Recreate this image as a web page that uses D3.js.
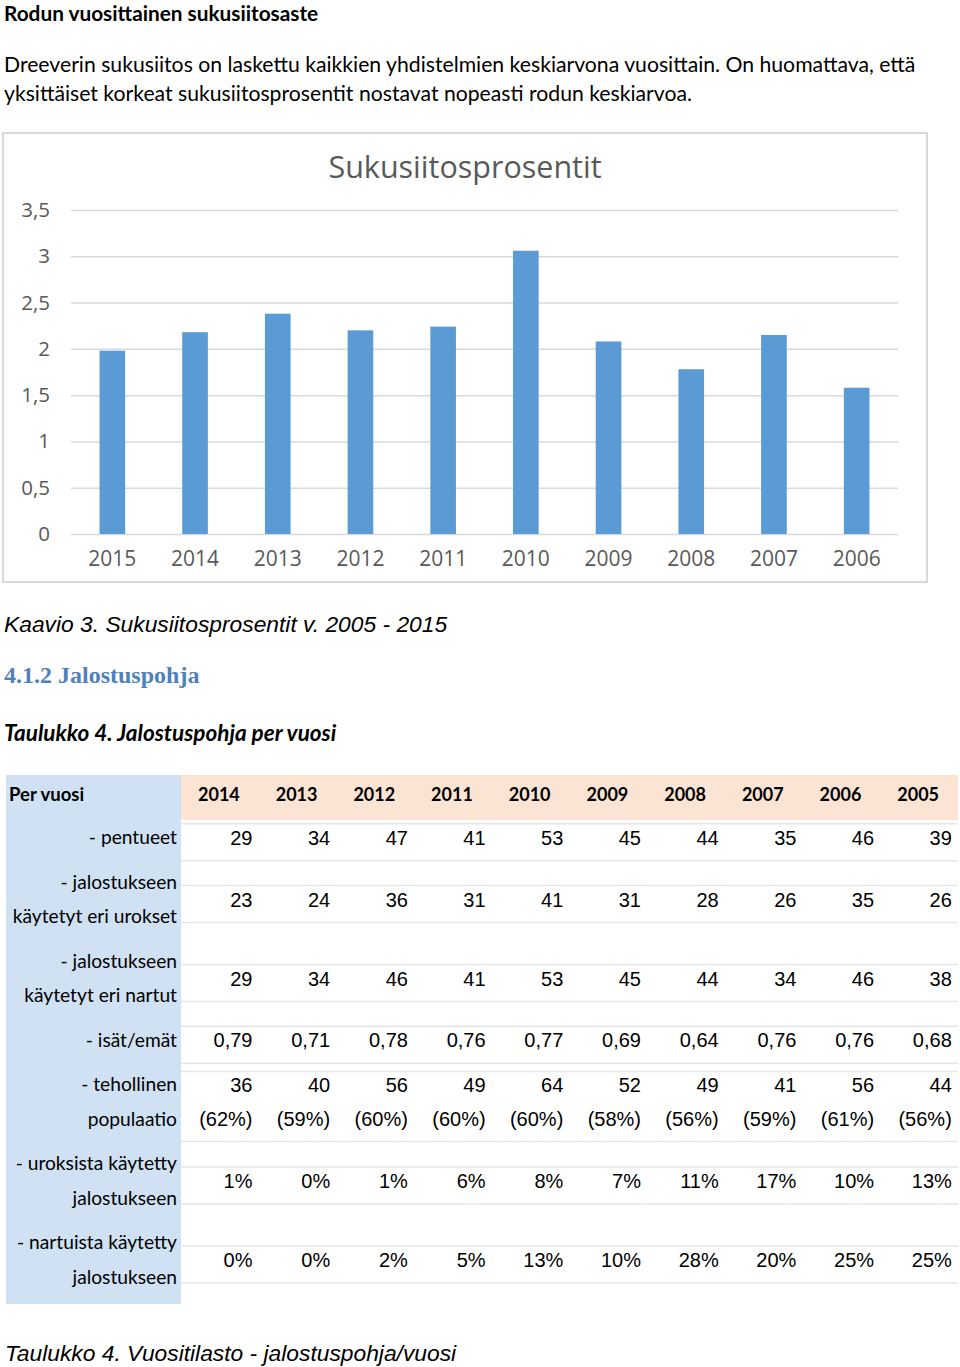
<!DOCTYPE html>
<html>
<head>
<meta charset="utf-8">
<script src="https://cdn.jsdelivr.net/npm/d3@7"></script>
<style>
  html, body { margin: 0; padding: 0; background: #fff; }
  svg { display: block; }
</style>
</head>
<body>
<svg id="page" width="960" height="1367"></svg>
<script>
// ---------------- DATA ----------------
const chartYears = ["2015","2014","2013","2012","2011","2010","2009","2008","2007","2006"];
const inbreeding = [1.98, 2.18, 2.38, 2.20, 2.24, 3.06, 2.08, 1.78, 2.15, 1.58];
const yTicks = [0, 0.5, 1, 1.5, 2, 2.5, 3, 3.5];

const tableYears = ["2014","2013","2012","2011","2010","2009","2008","2007","2006","2005"];
const pentueet = [29, 34, 47, 41, 53, 45, 44, 35, 46, 39];
const urokset = [23, 24, 36, 31, 41, 31, 28, 26, 35, 26];
const nartut = [29, 34, 46, 41, 53, 45, 44, 34, 46, 38];
const isatEmat = [0.79, 0.71, 0.78, 0.76, 0.77, 0.69, 0.64, 0.76, 0.76, 0.68];
const tehollinen = [36, 40, 56, 49, 64, 52, 49, 41, 56, 44];
const tehollinenPct = [62, 59, 60, 60, 60, 58, 56, 59, 61, 56];
const uroksistaPct = [1, 0, 1, 6, 8, 7, 11, 17, 10, 13];
const nartuistaPct = [0, 0, 2, 5, 13, 10, 28, 20, 25, 25];

const rowLabels = [
  ["- pentueet"],
  ["- jalostukseen", "käytetyt eri urokset"],
  ["- jalostukseen", "käytetyt eri nartut"],
  ["- isät/emät"],
  ["- tehollinen", "populaatio"],
  ["- uroksista käytetty", "jalostukseen"],
  ["- nartuista käytetty", "jalostukseen"]
];

// ---------------- RENDER ----------------
const fi = d3.formatLocale({decimal: ",", thousands: "\u00a0", grouping: [3], currency: ["", "\u00a0€"]});
const fmtTick = v => fi.format(",")(v);
const fmt2 = fi.format(".2f");

const svg = d3.select("#page");
const CAL = "Lato, 'Open Sans', sans-serif";
const ARIAL = "'Liberation Sans', Arial, sans-serif";
const OPEN = "'Open Sans', sans-serif";

// Page texts
svg.append("text").attr("x", 4).attr("y", 20.5)
  .attr("font-family", CAL).attr("font-weight", 700).attr("font-size", 20.8)
  .text("Rodun vuosittainen sukusiitosaste");
svg.append("text").attr("x", 4).attr("y", 72)
  .attr("font-family", CAL).attr("font-size", 21.2)
  .text("Dreeverin sukusiitos on laskettu kaikkien yhdistelmien keskiarvona vuosittain. On huomattava, että");
svg.append("text").attr("x", 4).attr("y", 101)
  .attr("font-family", CAL).attr("font-size", 21.2)
  .text("yksittäiset korkeat sukusiitosprosentit nostavat nopeasti rodun keskiarvoa.");

// ---------- Chart ----------
const chartBox = {x: 3, y: 133, w: 924, h: 449};
svg.append("rect").attr("x", chartBox.x).attr("y", chartBox.y)
  .attr("width", chartBox.w).attr("height", chartBox.h)
  .attr("fill", "#fff").attr("stroke", "#d9d9d9").attr("stroke-width", 2);

const plot = {left: 71, right: 898, top: 210, bottom: 534};
const x = d3.scaleBand().domain(chartYears).range([plot.left, plot.right]).paddingInner(0.69).paddingOuter(0.345);
const y = d3.scaleLinear().domain([0, 3.5]).range([plot.bottom, plot.top]);

svg.append("text").attr("x", 465).attr("y", 178).attr("text-anchor", "middle")
  .attr("font-family", OPEN).attr("font-size", 30.5).attr("fill", "#595959")
  .text("Sukusiitosprosentit");

const gy = svg.append("g").attr("transform", `translate(${plot.left},0)`)
  .call(d3.axisLeft(y).tickValues(yTicks).tickFormat(fmtTick).tickSize(-(plot.right - plot.left)).tickPadding(21));
gy.select(".domain").remove();
gy.selectAll(".tick line").attr("stroke", "#d9d9d9").attr("stroke-width", 1.5);
gy.selectAll(".tick text").attr("font-family", OPEN).attr("font-size", 20.5).attr("fill", "#595959");

svg.append("g").selectAll("rect").data(chartYears).join("rect")
  .attr("x", d => x(d)).attr("width", x.bandwidth())
  .attr("y", (d, i) => y(inbreeding[i]))
  .attr("height", (d, i) => y(0) - y(inbreeding[i]))
  .attr("fill", "#5b9bd5");

const gx = svg.append("g").attr("transform", `translate(0,${plot.bottom})`)
  .call(d3.axisBottom(x).tickSize(0).tickPadding(17));
gx.select(".domain").remove();
gx.selectAll(".tick text").attr("font-family", OPEN).attr("font-size", 21).attr("fill", "#595959");

// Captions
svg.append("text").attr("x", 4).attr("y", 632)
  .attr("font-family", ARIAL).attr("font-style", "italic").attr("font-size", 22.8)
  .text("Kaavio 3. Sukusiitosprosentit v. 2005 - 2015");
svg.append("text").attr("x", 4).attr("y", 683)
  .attr("font-family", "'Liberation Serif', serif").attr("font-weight", 700).attr("font-size", 24)
  .attr("fill", "#4f81bd")
  .text("4.1.2 Jalostuspohja");
svg.append("text").attr("x", 4).attr("y", 741)
  .attr("font-family", CAL).attr("font-weight", 700).attr("font-style", "italic").attr("font-size", 22.5)
  .text("Taulukko 4. Jalostuspohja per vuosi");

// ---------- Table ----------
const T = {left: 6, labelRight: 181, right: 958, top: 775, headBottom: 820, lineH: 34.5, pad: 10};
const col = d3.scaleBand().domain(tableYears).range([T.labelRight, T.right]);

const rows = [
  {label: rowLabels[0], vals: [pentueet.map(String)]},
  {label: rowLabels[1], vals: [urokset.map(String)]},
  {label: rowLabels[2], vals: [nartut.map(String)]},
  {label: rowLabels[3], vals: [isatEmat.map(fmt2)]},
  {label: rowLabels[4], vals: [tehollinen.map(String), tehollinenPct.map(v => `(${v}%)`)]},
  {label: rowLabels[5], vals: [uroksistaPct.map(v => `${v}%`)]},
  {label: rowLabels[6], vals: [nartuistaPct.map(v => `${v}%`)]}
];
let yy = T.headBottom;
rows.forEach(r => {
  r.h = r.label.length * T.lineH + T.pad;
  r.top = yy; r.c = yy + r.h / 2; yy += r.h;
});
const tableBottom = yy;

// backgrounds
svg.append("rect").attr("x", T.left).attr("y", T.top).attr("width", T.labelRight - T.left)
  .attr("height", tableBottom - T.top).attr("fill", "#cfe1f2");
svg.append("rect").attr("x", T.labelRight).attr("y", T.top).attr("width", T.right - T.labelRight)
  .attr("height", T.headBottom - T.top).attr("fill", "#fbe4d3");

// row lines
const lineG = svg.append("g");
rows.forEach(r => {
  const half = r.vals.length === 1 ? 18.5 : 35;
  [r.c - half, r.c + half].forEach(ly => {
    lineG.append("line").attr("x1", T.labelRight).attr("x2", T.right)
      .attr("y1", ly).attr("y2", ly).attr("stroke", "#e6e6e6").attr("stroke-width", 1.5);
  });
});

// header
const headC = (T.top + T.headBottom) / 2;
svg.append("text").attr("x", 9).attr("y", headC + 3)
  .attr("font-family", CAL).attr("font-weight", 700).attr("font-size", 18.5)
  .text("Per vuosi");
svg.append("g").selectAll("text").data(tableYears).join("text")
  .attr("x", d => col(d) + 17).attr("y", headC + 3)
  .attr("font-family", CAL).attr("font-weight", 700).attr("font-size", 18)
  .text(d => d);

// label + values
rows.forEach(r => {
  const tc = r.c - 4.5;
  const n = r.label.length;
  r.label.forEach((t, k) => {
    svg.append("text").attr("x", 177).attr("y", tc + (k - (n - 1) / 2) * T.lineH + 6.5)
      .attr("text-anchor", "end").attr("font-family", CAL).attr("font-size", 19.2)
      .text(t);
  });
  const m = r.vals.length;
  r.vals.forEach((arr, k) => {
    svg.append("g").selectAll("text").data(tableYears).join("text")
      .attr("x", d => col(d) + 71.5)
      .attr("y", tc + (k - (m - 1) / 2) * 33.5 + 7)
      .attr("text-anchor", "end").attr("font-family", ARIAL).attr("font-size", 20)
      .text((d, i) => arr[i]);
  });
});

svg.append("text").attr("x", 5).attr("y", 1361)
  .attr("font-family", ARIAL).attr("font-style", "italic").attr("font-size", 22.8)
  .text("Taulukko 4. Vuositilasto - jalostuspohja/vuosi");
</script>
</body>
</html>
